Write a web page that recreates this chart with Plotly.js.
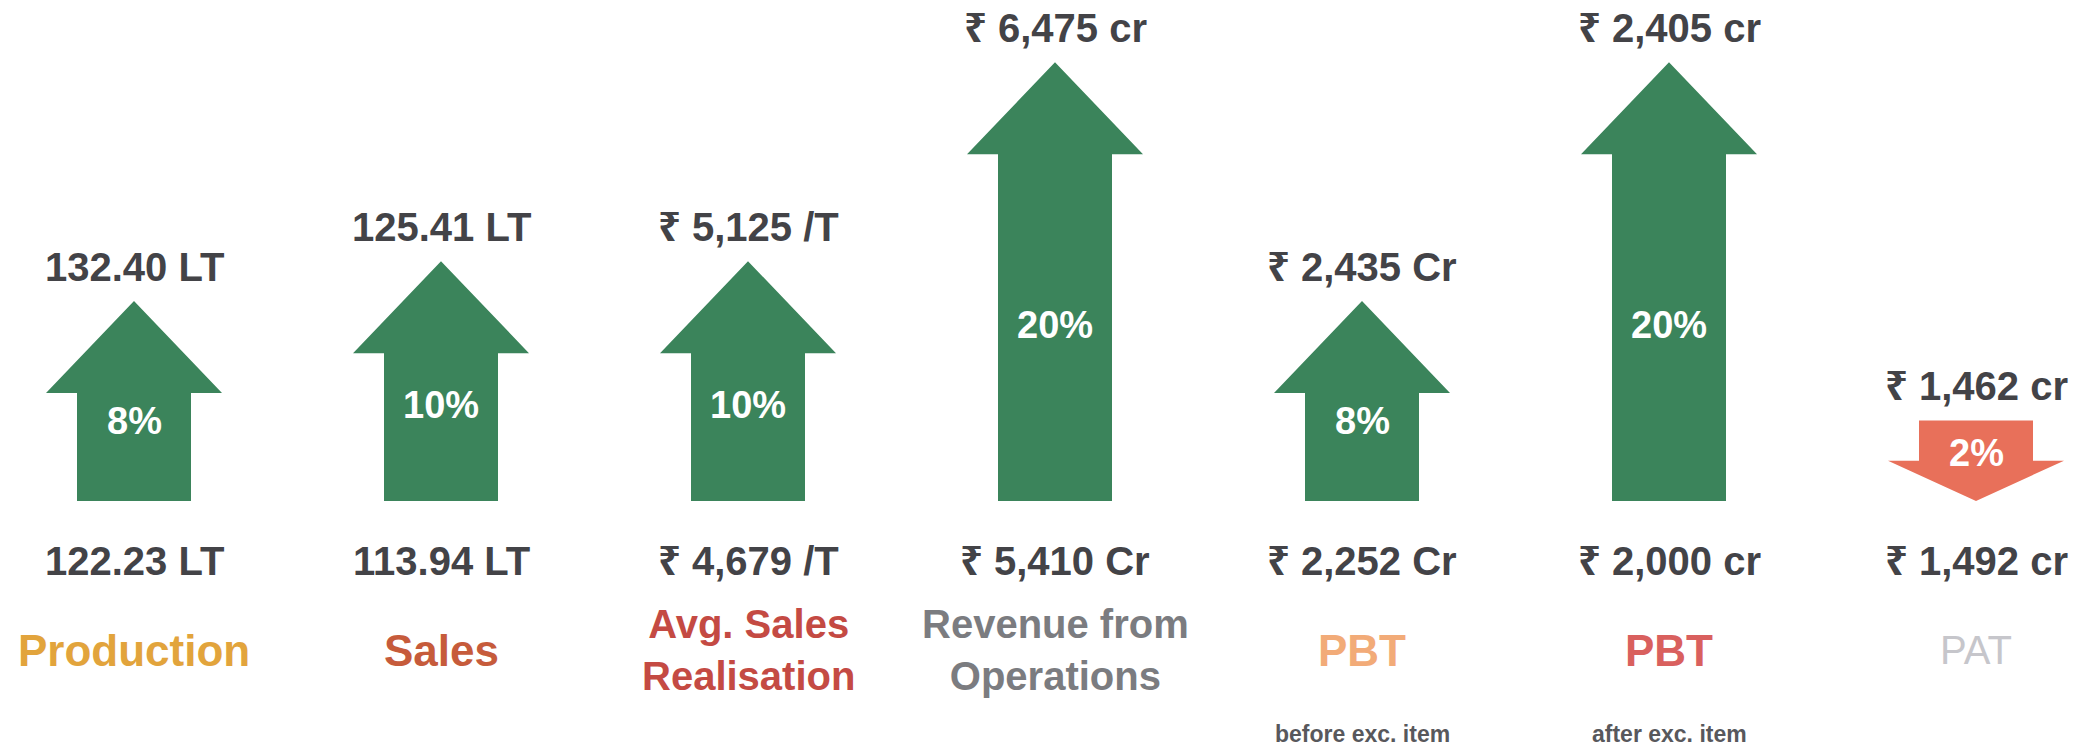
<!DOCTYPE html>
<html>
<head>
<meta charset="utf-8">
<script src="https://cdn.plot.ly/plotly-3.0.1.min.js"></script>
<style>
  html, body { margin: 0; padding: 0; background: #ffffff; }
  #chart { width: 2080px; height: 752px; }
</style>
</head>
<body>
<div id="chart"></div>
<script>
// ---------------- DATA ----------------
const categories = ['Production', 'Sales', 'Avg. Sales<br>Realisation', 'Revenue from<br>Operations', 'PBT', 'PBT', 'PAT'];
const subCaptions = ['', '', '', '', 'before exc. item', 'after exc. item', ''];
const previousValues = [122.23, 113.94, 4679, 5410, 2252, 2000, 1492];
const currentValues  = [132.40, 125.41, 5125, 6475, 2435, 2405, 1462];
const valuePrefix    = ['', '', '₹ ', '₹ ', '₹ ', '₹ ', '₹ '];
const previousUnits  = ['LT', 'LT', '/T', 'Cr', 'Cr', 'cr', 'cr'];
const currentUnits   = ['LT', 'LT', '/T', 'cr', 'Cr', 'cr', 'cr'];
const changePct      = [8, 10, 10, 20, 8, 20, -2];

// ---------------- STYLE ----------------
const labelColors = ['#e2a43c', '#c65b3b', '#c44a43', '#7b7c80', '#f2ab78', '#d9605e', '#c6c6cb'];
const labelSizes  = [44, 44, 40, 40, 44, 44, 40];
const boldFont = 'Liberation Sans, Noto Sans, DejaVu Sans, Arial, sans-serif';
const upColor = '#3b845b';
const downColor = '#e8705a';
const valueColor = '#434347';

const W = 2080, H = 752;
const slotPx = 307, firstSlotPx = 134;      // horizontal spacing of categories
const yPx = 19.9;                            // pixels per percent point
const stem = 2.05;                           // minimal arrow length (percent units)
const basePx = 501;                          // pixel row of arrow bases
const headHalfPx = 88, shaftHalfPx = 57, headHPx = 92;

const xr = [-firstSlotPx / slotPx, (W - firstSlotPx) / slotPx];
const yr = [-stem - (H - basePx) / yPx, -stem + basePx / yPx];

function fmt(v, unit) {
  const s = unit === 'LT' ? v.toFixed(2) : v.toLocaleString('en-US');
  return s + ' ' + unit;
}

const traces = [];
const annotations = [];

categories.forEach((cat, i) => {
  const x = i;
  const pct = changePct[i];
  const up = pct >= 0;
  const len = Math.abs(pct) + stem;
  const y0 = -stem, y1 = Math.abs(pct);
  const hh = headHalfPx / slotPx, sh = shaftHalfPx / slotPx;
  const headH = Math.min(headHPx / yPx, 0.5 * len);
  let xs, ys;
  if (up) {
    xs = [x - sh, x - sh, x - hh, x, x + hh, x + sh, x + sh, x - sh];
    ys = [y0, y1 - headH, y1 - headH, y1, y1 - headH, y1 - headH, y0, y0];
  } else {
    xs = [x - sh, x + sh, x + sh, x + hh, x, x - hh, x - sh, x - sh];
    ys = [y1, y1, y0 + headH, y0 + headH, y0, y0 + headH, y0 + headH, y1];
  }
  traces.push({
    type: 'scatter', mode: 'lines', x: xs, y: ys,
    fill: 'toself', fillcolor: up ? upColor : downColor,
    line: { width: 0, color: up ? upColor : downColor },
    hoverinfo: 'skip', showlegend: false
  });

  // percent label inside arrow
  annotations.push({
    x: x, y: up ? y0 + 0.4 * len : y1 - 0.4 * len, xref: 'x', yref: 'y',
    text: Math.abs(pct) + '%', showarrow: false, xanchor: 'center', yanchor: 'middle',
    font: { family: boldFont, size: 38, color: '#ffffff', weight: 'bold' }
  });
  // current value above arrow
  annotations.push({
    x: x, y: y1, xref: 'x', yref: 'y', yshift: 34,
    text: valuePrefix[i] + fmt(currentValues[i], currentUnits[i]),
    showarrow: false, xanchor: 'center', yanchor: 'middle',
    font: { family: boldFont, size: 40, color: valueColor, weight: 'bold' }
  });
  // previous value below arrow
  annotations.push({
    x: x, y: y0, xref: 'x', yref: 'y', yshift: -60,
    text: valuePrefix[i] + fmt(previousValues[i], previousUnits[i]),
    showarrow: false, xanchor: 'center', yanchor: 'middle',
    font: { family: boldFont, size: 40, color: valueColor, weight: 'bold' }
  });
  // category label
  annotations.push({
    x: x, y: y0, xref: 'x', yref: 'y', yshift: -149,
    text: cat, showarrow: false, xanchor: 'center', yanchor: 'middle',
    font: { family: boldFont, size: labelSizes[i], color: labelColors[i], weight: cat === 'PAT' ? 'normal' : 'bold' }
  });
  if (subCaptions[i]) {
    annotations.push({
      x: x, y: y0, xref: 'x', yref: 'y', yshift: -233,
      text: subCaptions[i], showarrow: false, xanchor: 'center', yanchor: 'middle',
      font: { family: boldFont, size: 23, color: '#58585c', weight: 'bold' }
    });
  }
});

const layout = {
  width: W, height: H,
  margin: { l: 0, r: 0, t: 0, b: 0 },
  paper_bgcolor: '#ffffff', plot_bgcolor: '#ffffff',
  xaxis: { range: xr, visible: false, fixedrange: true },
  yaxis: { range: yr, visible: false, fixedrange: true },
  showlegend: false,
  annotations: annotations
};

Plotly.newPlot('chart', traces, layout, { staticPlot: true, displayModeBar: false });
</script>
</body>
</html>
